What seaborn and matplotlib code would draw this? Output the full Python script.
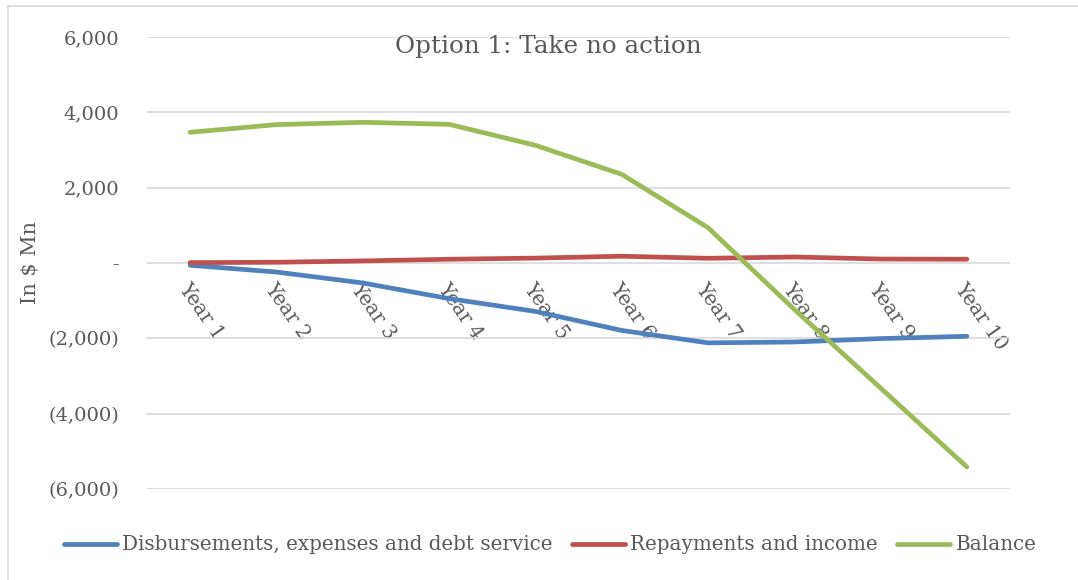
import matplotlib
matplotlib.use("Agg")
import matplotlib.pyplot as plt
import seaborn as sns
import pandas as pd
from matplotlib.ticker import FuncFormatter
from matplotlib.lines import Line2D

years = ["Year 1", "Year 2", "Year 3", "Year 4", "Year 5",
         "Year 6", "Year 7", "Year 8", "Year 9", "Year 10"]
disbursements = [-60, -240, -530, -945, -1285, -1790, -2120, -2097, -2007, -1946]
repayments = [10, 20, 55, 100, 130, 180, 125, 160, 105, 100]
balance = [3470, 3674, 3735, 3682, 3125, 2355, 940, -1230, -3318, -5415]

series_names = ["Disbursements, expenses and debt service", "Repayments and income", "Balance"]
colors = ["#4F81BD", "#C0504D", "#9BBB59"]

df = pd.DataFrame({
    "Year": years * 3,
    "Value": disbursements + repayments + balance,
    "Series": [series_names[0]] * 10 + [series_names[1]] * 10 + [series_names[2]] * 10,
})
df["pos"] = list(range(10)) * 3

sns.set_style("white")
plt.rcParams["font.family"] = ["DejaVu Serif"]

fig = plt.figure(figsize=(10.78, 5.8), dpi=100)
ax = fig.add_axes([147/1078, 1 - 489/580, (1010-147)/1078, (489-37)/580])

sns.lineplot(data=df, x="pos", y="Value", hue="Series", palette=colors,
             linewidth=3.4, ax=ax, legend=True, solid_capstyle="round")

ax.set_xlim(-0.5, 9.5)
ax.set_ylim(-6000, 6000)
ax.set_yticks(range(-6000, 6001, 2000))

def fmt(v, p):
    if abs(v) < 1e-9:
        return "-"
    if v < 0:
        return "({:,.0f})".format(-v)
    return "{:,.0f}".format(v)

ax.yaxis.set_major_formatter(FuncFormatter(fmt))
ax.grid(axis="y", color="#D9D9D9", linewidth=1.2)
ax.set_axisbelow(True)
for s in ["top", "right", "left"]:
    ax.spines[s].set_visible(False)
ax.spines["bottom"].set_position(("data", 0))
ax.spines["bottom"].set_visible(False)
ax.set_xticks(range(10))
ax.set_xticklabels(years, rotation=-55, ha="left", va="top",
                   rotation_mode="anchor", fontsize=14.5, color="#595959")
ax.tick_params(axis="x", length=0, pad=12)
ax.tick_params(axis="y", length=0, pad=20, labelsize=14, labelcolor="#595959")
ax.set_xlabel("")
ax.set_ylabel("In $ Mn", fontsize=15, color="#595959")
ax.yaxis.set_label_coords((40 - 147) / 863, 0.5)

fig.text(0.5 + (548 - 539) / 1078, 1 - 47 / 580, "Option 1: Take no action",
         ha="center", va="center", fontsize=17.7, color="#595959")

handles, labels = ax.get_legend_handles_labels()
ax.legend_.remove()
for h in handles:
    h.set_solid_capstyle("round")
fig.legend(handles, labels, loc="center", bbox_to_anchor=(0.5 + (550 - 539) / 1078, 1 - 545/580),
           ncol=3, frameon=False, fontsize=14.3, handlelength=2.7,
           handletextpad=0.25, columnspacing=0.95, labelcolor="#595959")

fig.add_artist(Line2D([8/1078, 8/1078], [0, 1 - 6/580], transform=fig.transFigure,
                      color="#D9D9D9", linewidth=1.2))
fig.add_artist(Line2D([8/1078, 1], [1 - 6/580, 1 - 6/580], transform=fig.transFigure,
                      color="#D9D9D9", linewidth=1.2))

fig.savefig("out.png", dpi=100)
